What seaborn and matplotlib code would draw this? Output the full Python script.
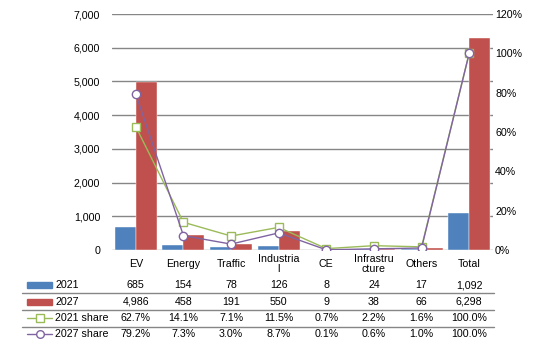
import numpy as np
import pandas as pd
import matplotlib
matplotlib.use("Agg")
import matplotlib.pyplot as plt
import seaborn as sns
from matplotlib.transforms import blended_transform_factory
from matplotlib.patches import Rectangle
from matplotlib.lines import Line2D
from matplotlib.ticker import FuncFormatter, MultipleLocator

# ---------------- data ----------------
categories = ["EV", "Energy", "Traffic", "Industrial", "CE", "Infrastructure", "Others", "Total"]
cat_labels = ["EV", "Energy", "Traffic", "Industria\nl", "CE", "Infrastru\ncture", "Others", "Total"]
v2021 = [685, 154, 78, 126, 8, 24, 17, 1092]
v2027 = [4986, 458, 191, 550, 9, 38, 66, 6298]
share2021 = [62.7, 14.1, 7.1, 11.5, 0.7, 2.2, 1.6, 100.0]
share2027 = [79.2, 7.3, 3.0, 8.7, 0.1, 0.6, 1.0, 100.0]

BLUE = "#4F81BD"
RED = "#C0504D"
GREEN = "#9BBB59"
PURPLE = "#8064A2"
GRID = "#868686"

sns.set_style("white")
plt.rcParams["font.family"] = ["Liberation Sans", "DejaVu Sans"]
plt.rcParams["text.color"] = "black"
plt.rcParams["ytick.color"] = "black"
plt.rcParams["ytick.labelcolor"] = "black"
FS = 7.7

W, H = 539, 350
fig = plt.figure(figsize=(W / 100, H / 100), dpi=100)
ax = fig.add_axes([112 / W, 1 - 250 / H, (493 - 112) / W, (250 - 14) / H])

df = pd.DataFrame({
    "cat": categories * 2,
    "year": ["2021"] * len(categories) + ["2027"] * len(categories),
    "value": v2021 + v2027,
})
sns.barplot(data=df, x="cat", y="value", hue="year", order=categories,
            palette=[BLUE, RED], saturation=1, width=0.88, ax=ax,
            legend=False, edgecolor="white", linewidth=0.3, zorder=3)

ax.set_xlim(-0.5, len(categories) - 0.5)
ax.set_ylim(0, 7000)
ax.yaxis.set_major_locator(MultipleLocator(1000))
ax.yaxis.set_major_formatter(FuncFormatter(lambda v, p: f"{int(v):,}"))
ax.grid(axis="y", color=GRID, linewidth=1.0, zorder=0)
ax.set_axisbelow(True)
ax.set_xticks([])
ax.set_xlabel("")
ax.set_ylabel("")
ax.tick_params(axis="y", length=0, pad=8.5, labelsize=FS, labelcolor="black")
for s in ax.spines.values():
    s.set_visible(False)

ax2 = ax.twinx()
x = np.arange(len(categories))
sns.lineplot(x=x, y=np.array(share2021) / 100, ax=ax2, color=GREEN, linewidth=1.0,
             marker="s", markersize=6.2, markerfacecolor="white",
             markeredgecolor=GREEN, markeredgewidth=1.0, zorder=4)
sns.lineplot(x=x, y=np.array(share2027) / 100, ax=ax2, color=PURPLE, linewidth=1.0,
             marker="o", markersize=6.0, markerfacecolor="white",
             markeredgecolor=PURPLE, markeredgewidth=1.0, zorder=5)
ax2.set_xlim(-0.5, len(categories) - 0.5)
ax2.set_ylim(0, 1.2)
ax2.yaxis.set_major_locator(MultipleLocator(0.2))
ax2.yaxis.set_major_formatter(FuncFormatter(lambda v, p: f"{v * 100:.0f}%"))
ax2.tick_params(axis="y", length=0, pad=1.5, labelsize=FS, labelcolor="black")
ax2.set_ylabel("")
for s in ax2.spines.values():
    s.set_visible(False)

# ---------------- data table ----------------
tr = blended_transform_factory(ax.transData, fig.transFigure)
def fy(p):
    return 1 - p / H

for i, lab in enumerate(cat_labels):
    fig.text(i, fy(264), lab, transform=tr, ha="center", va="center",
             fontsize=FS, linespacing=1.0, color="black")

rows_y = [285, 302, 318, 334]
row_vals = [
    [f"{v:,}" for v in v2021],
    [f"{v:,}" for v in v2027],
    [f"{v:.1f}%" for v in share2021],
    [f"{v:.1f}%" for v in share2027],
]
row_names = ["2021", "2027", "2021 share", "2027 share"]
for ry, vals in zip(rows_y, row_vals):
    for i, t in enumerate(vals):
        fig.text(i, fy(ry), t, transform=tr, ha="center", va="center",
                 fontsize=FS, color="black")

for ry, name in zip(rows_y, row_names):
    fig.text(55 / W, fy(ry), name, ha="left", va="center", fontsize=FS, color="black")

# legend keys
fig.patches.append(Rectangle((27 / W, fy(285) - 3 / H), 25 / W, 6 / H,
                             transform=fig.transFigure, color=BLUE))
fig.patches.append(Rectangle((27 / W, fy(302) - 3 / H), 25 / W, 6 / H,
                             transform=fig.transFigure, color=RED))
fig.lines.append(Line2D([27 / W, 52 / W], [fy(318), fy(318)], transform=fig.transFigure,
                        color=GREEN, linewidth=1.0))
fig.lines.append(Line2D([39.5 / W], [fy(318)], transform=fig.transFigure, marker="s",
                        markersize=5.5, markerfacecolor="white", markeredgecolor=GREEN,
                        markeredgewidth=1.0, linestyle="none"))
fig.lines.append(Line2D([27 / W, 52 / W], [fy(334), fy(334)], transform=fig.transFigure,
                        color=PURPLE, linewidth=1.0))
fig.lines.append(Line2D([39.5 / W], [fy(334)], transform=fig.transFigure, marker="o",
                        markersize=5.5, markerfacecolor="white", markeredgecolor=PURPLE,
                        markeredgewidth=1.0, linestyle="none"))

# table separator lines
for ly in [293, 310, 327]:
    fig.lines.append(Line2D([22 / W, 494 / W], [fy(ly), fy(ly)], transform=fig.transFigure,
                            color=GRID, linewidth=1.0))

fig.savefig("out.png", dpi=100)
